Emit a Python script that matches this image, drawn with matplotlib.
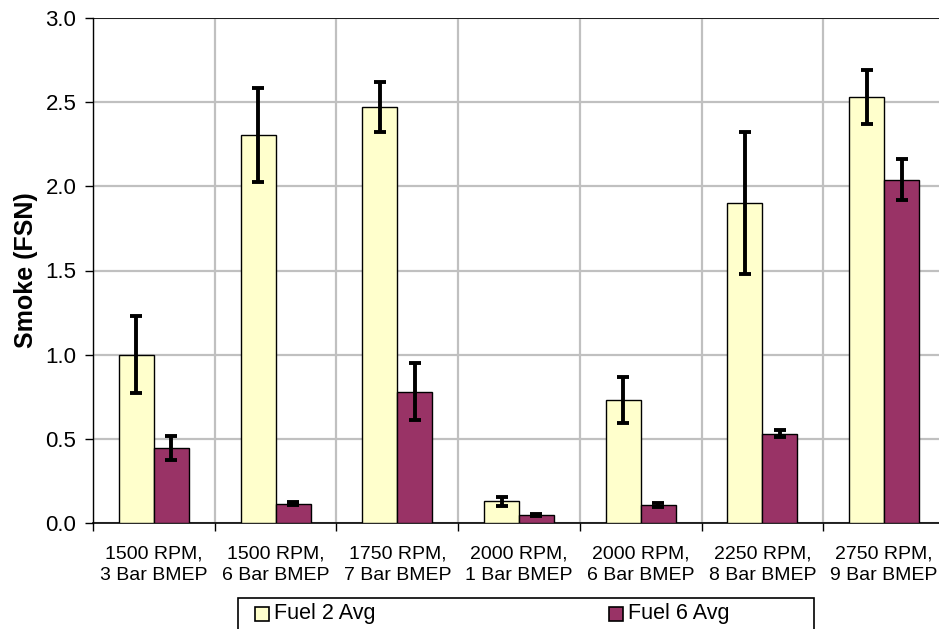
import matplotlib

matplotlib.use("Agg")

import matplotlib.pyplot as plt
import numpy as np
from matplotlib.patches import Rectangle

plt.rcParams["font.family"] = ["Liberation Sans", "DejaVu Sans"]

conditions = [
    "1500 RPM,\n3 Bar BMEP",
    "1500 RPM,\n6 Bar BMEP",
    "1750 RPM,\n7 Bar BMEP",
    "2000 RPM,\n1 Bar BMEP",
    "2000 RPM,\n6 Bar BMEP",
    "2250 RPM,\n8 Bar BMEP",
    "2750 RPM,\n9 Bar BMEP",
]
fuel2_avg = [1.00, 2.305, 2.47, 0.13, 0.73, 1.90, 2.53]
fuel2_err = [0.23, 0.28, 0.15, 0.027, 0.135, 0.42, 0.16]
fuel6_avg = [0.447, 0.115, 0.78, 0.046, 0.105, 0.53, 2.04]
fuel6_err = [0.07, 0.01, 0.17, 0.006, 0.012, 0.02, 0.12]

FUEL2_COLOR = "#FFFFCC"
FUEL6_COLOR = "#993366"

W, H = 939, 629
fig = plt.figure(figsize=(W / 100, H / 100), dpi=100)
# plot area runs past the right edge of the picture, as in the source
ax = fig.add_axes([93 / W, 1 - 523 / H, 852 / W, 505 / H])

x = np.arange(len(conditions))
bw = 0.287
err_kw = dict(ecolor="black", elinewidth=2.8, capsize=4.3, capthick=2.8)
ax.bar(x - bw / 2, fuel2_avg, bw, yerr=fuel2_err, color=FUEL2_COLOR,
       edgecolor="black", linewidth=1, error_kw=err_kw, zorder=3)
ax.bar(x + bw / 2, fuel6_avg, bw, yerr=fuel6_err, color=FUEL6_COLOR,
       edgecolor="black", linewidth=1, error_kw=err_kw, zorder=3)

ax.set_xlim(-0.5, len(conditions) - 0.5)
ax.set_ylim(0, 3.0)
yt = np.arange(0, 3.01, 0.5)
ax.set_yticks(yt)
ax.set_yticklabels([f"{v:.1f}" for v in yt], fontsize=16)

# category boundaries carry the ticks and vertical grid lines
ax.set_xticks(np.arange(-0.5, len(conditions) - 0.4, 1))
ax.set_xticklabels([])
ax.set_xticks(x, minor=True)
ax.set_xticklabels(conditions, minor=True, fontsize=14, linespacing=1.4)
ax.tick_params(axis="x", which="minor", length=0, pad=16)
ax.tick_params(axis="x", which="major", direction="out", length=6, width=1)
ax.tick_params(axis="y", direction="out", length=6, width=1, pad=6)

ax.grid(True, which="major", color="#C0C0C0", linewidth=1.6, zorder=0)
ax.set_axisbelow(True)
for side in ["top", "right"]:
    ax.spines[side].set_visible(False)
ax.axhline(3.0, color="black", linewidth=1.2, zorder=4)
ax.spines["left"].set_linewidth(1)
ax.spines["bottom"].set_linewidth(1.2)

ax.set_ylabel("Smoke (FSN)", fontsize=18, fontweight="bold")
ax.yaxis.set_label_coords((38 - 93) / 852, 0.5)

# legend box, drawn in figure pixels; its bottom is cut off by the image edge
def fx(px):
    return px / W


def fy(py):
    return 1 - py / H


fig.patches.append(Rectangle((fx(238), fy(640)), fx(814) - fx(238), fy(598) - fy(640),
                             transform=fig.transFigure, facecolor="white",
                             edgecolor="black", linewidth=1.2))
for x0, color, label in [(255, FUEL2_COLOR, "Fuel 2 Avg"), (609, FUEL6_COLOR, "Fuel 6 Avg")]:
    fig.patches.append(Rectangle((fx(x0), fy(621)), fx(14), 14 / H,
                                 transform=fig.transFigure, facecolor=color,
                                 edgecolor="black", linewidth=1.2))
    fig.text(fx(x0 + 19), fy(614), label, fontsize=15.5, ha="left", va="center")

fig.savefig("out.png", dpi=100)
